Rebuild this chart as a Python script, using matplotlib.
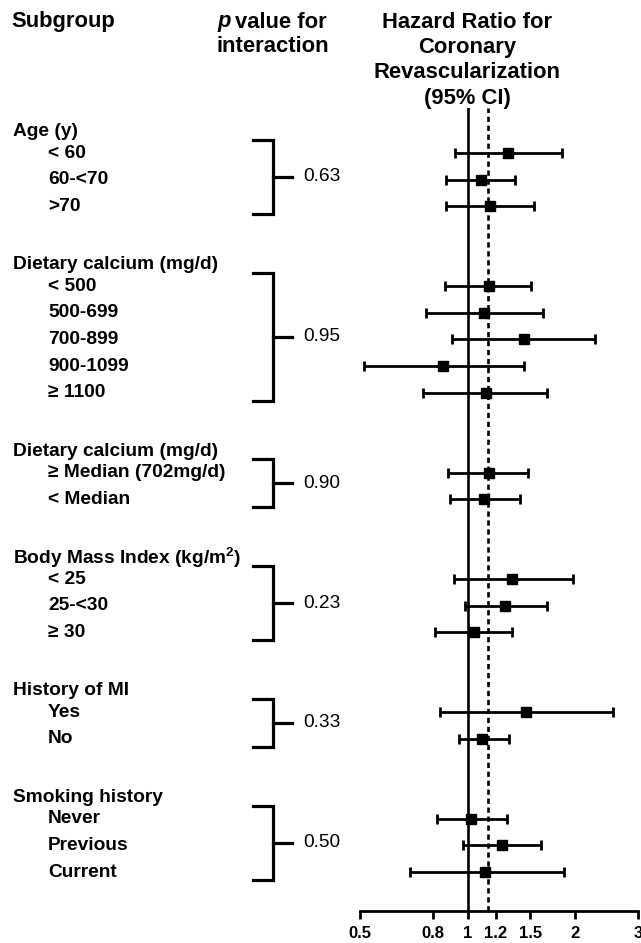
import matplotlib.pyplot as plt
from matplotlib import transforms

plt.rcParams['font.family'] = ['Liberation Sans', 'DejaVu Sans']
plt.rcParams['mathtext.fontset'] = 'custom'
plt.rcParams['mathtext.rm'] = 'Liberation Sans'
plt.rcParams['mathtext.bf'] = 'Liberation Sans:bold'

# subgroup data (hazard ratio and 95% CI)
group_titles = [
    "Age (y)",
    "Dietary calcium (mg/d)",
    "Dietary calcium (mg/d)",
    r"Body Mass Index (kg/m$^{\mathbf{2}}$)",
    "History of MI",
    "Smoking history",
]
group_labels = [
    ["< 60", "60-<70", ">70"],
    ["< 500", "500-699", "700-899", "900-1099", "\u2265 1100"],
    ["\u2265 Median (702mg/d)", "< Median"],
    ["< 25", "25-<30", "\u2265 30"],
    ["Yes", "No"],
    ["Never", "Previous", "Current"],
]
p_values = ["0.63", "0.95", "0.90", "0.23", "0.33", "0.50"]
hr = [1.30, 1.09, 1.155,
      1.145, 1.115, 1.435, 0.855, 1.124,
      1.15, 1.115,
      1.335, 1.277, 1.044,
      1.46, 1.10,
      1.023, 1.25, 1.12]
ci_low = [0.925, 0.873, 0.873,
          0.863, 0.763, 0.905, 0.512, 0.752,
          0.882, 0.895,
          0.915, 0.983, 0.813,
          0.84, 0.944,
          0.822, 0.972, 0.69]
ci_high = [1.84, 1.36, 1.53,
           1.507, 1.63, 2.28, 1.435, 1.67,
           1.475, 1.40,
           1.97, 1.666, 1.335,
           2.55, 1.31,
           1.29, 1.61, 1.86]
overall_hr = 1.14
x_ticks = [0.5, 0.8, 1, 1.2, 1.5, 2, 3]
x_tick_labels = ["0.5", "0.8", "1", "1.2", "1.5", "2", "3"]

W, H = 641, 943
FS = 13.8      # row labels
FS_HEAD = 15.8 # column headers
fig = plt.figure(figsize=(W / 100, H / 100), dpi=100)
ax = fig.add_axes([360 / W, 1 - 910.7 / H, 278 / W, (910.7 - 108) / H])

# layout in row units: header, its rows, then a gap before the next group
rows, headers, spans = [], [], []
cursor = 0
for labels in group_labels:
    headers.append(cursor + 0.2)
    first = cursor + 1
    rows.extend(range(first, first + len(labels)))
    spans.append((first, first + len(labels) - 1))
    cursor = first + len(labels) + 1

xerr = [[h - l for h, l in zip(hr, ci_low)], [u - h for h, u in zip(hr, ci_high)]]
ax.errorbar(hr, rows, xerr=xerr, fmt='s', color='black', ms=6.5,
            elinewidth=2, capsize=3.5, capthick=2, zorder=3)
ax.axvline(1, color='black', lw=1.9, zorder=2)
ax.axvline(overall_hr, color='black', lw=1.9, ls=(0, (2, 1.4)), zorder=2)

ax.set_xscale('log')
ax.set_xlim(0.5, 3)
ax.set_ylim(29.45, -0.69)
ax.set_xticks(x_ticks)
ax.set_xticklabels(x_tick_labels, fontweight='bold')
ax.minorticks_off()
ax.set_yticks([])
for side in ['top', 'right', 'left']:
    ax.spines[side].set_visible(False)
ax.spines['bottom'].set_linewidth(2)
ax.tick_params(axis='x', length=6, width=2, labelsize=12, pad=5)
ax.patch.set_alpha(0)

trans = transforms.blended_transform_factory(fig.transFigure, ax.transData)

# left text column, brackets and interaction p values
i = 0
for title, labels, p, y_head, (first, last) in zip(group_titles, group_labels, p_values, headers, spans):
    ax.text(13 / W, y_head, title, transform=trans, fontsize=FS, fontweight='bold', va='center')
    for lab in labels:
        ax.text(48 / W, rows[i], lab, transform=trans, fontsize=FS, fontweight='bold', va='center')
        i += 1
    top, bot = first - 0.5, last + 0.3
    mid = (top + bot) / 2
    ax.plot([253 / W, 272.7 / W, 272.7 / W, 253 / W], [top, top, bot, bot], transform=trans,
            clip_on=False, color='black', lw=2.3, solid_joinstyle='miter')
    ax.plot([272.7 / W, 291.7 / W], [mid, mid], transform=trans, clip_on=False, color='black', lw=2.3)
    ax.text(303 / W, mid, p, transform=trans, fontsize=FS, va='center')

# column headers
fig.text(11 / W, 1 - 22 / H, "Subgroup", fontsize=FS_HEAD, fontweight='bold', va='center')
fig.text(217 / W, 1 - 22 / H, "p", fontsize=FS_HEAD, fontweight='bold', style='italic', va='center')
fig.text(235 / W, 1 - 22 / H, "value for", fontsize=FS_HEAD, fontweight='bold', va='center')
fig.text(217 / W, 1 - 47 / H, "interaction", fontsize=FS_HEAD, fontweight='bold', va='center')
for k, line in enumerate(["Hazard Ratio for", "Coronary", "Revascularization", "(95% CI)"]):
    fig.text(467 / W, 1 - (22 + 25.5 * k) / H, line, fontsize=FS_HEAD, fontweight='bold',
             va='center', ha='center')

fig.savefig('out.png', dpi=100)
